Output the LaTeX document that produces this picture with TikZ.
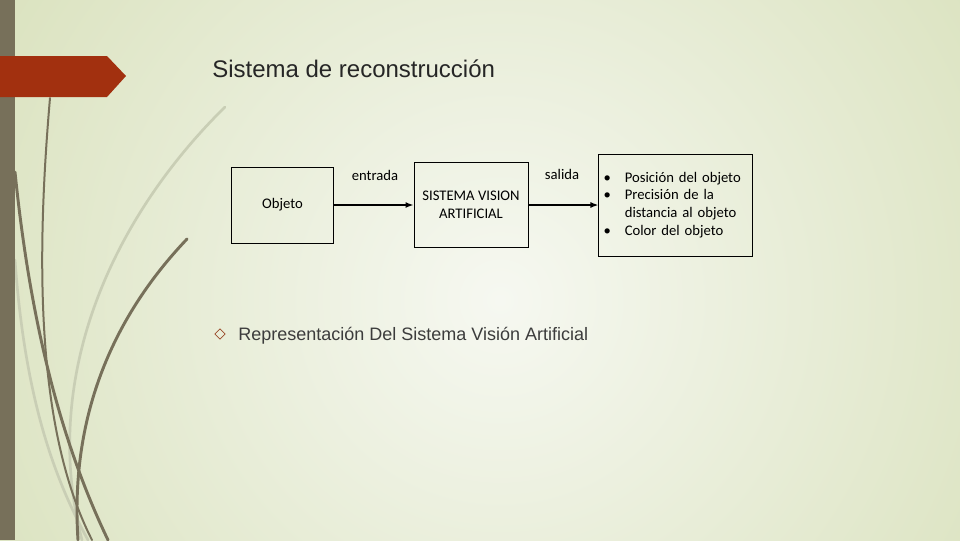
\documentclass[tikz,border=0pt]{standalone}
\usepackage{fontspec}
\setmainfont{Liberation Sans}
\newfontfamily\diagfont{Carlito}
\usetikzlibrary{arrows.meta,shapes.geometric}
\definecolor{slidebg}{HTML}{DAE2BE}
\definecolor{slidelight}{HTML}{F6F8F1}
\definecolor{olive}{HTML}{77705A}
\definecolor{palestem}{HTML}{C9CEB5}
\definecolor{tabred}{HTML}{A2300F}
\definecolor{bulletbrown}{HTML}{9A4A2A}
\definecolor{titlegray}{HTML}{262626}
\tikzset{
    blockbox/.style={draw=black,line width=0.75pt},
    flow/.style={-{Latex[length=6pt,width=4.5pt]},line width=1.1pt},
    diagtext/.style={font=\diagfont\fontsize{11}{13.3}\selectfont},
    stem/.style={olive,line width=2.2pt,line cap=round},
    palestemline/.style={palestem,line width=2pt,line cap=round}
}
\newcommand{\itembullet}{\makebox[16pt][l]{\textbullet}}

\begin{document}
\begin{tikzpicture}[x=0.75pt,y=-0.75pt]
    \useasboundingbox (0,0) rectangle (960,540);
    \begin{scope}
        \clip (0,0) rectangle (960,540);
        \shade[inner color=slidelight,outer color=slidebg] (500,300) circle (600);
    \end{scope}

    \draw[palestemline] (225,107) .. controls (110,220) and (40,380) .. (82,540);
    \draw[palestemline] (15,260) .. controls (25,400) and (55,480) .. (88,540);
    \draw[stem] (15,172) .. controls (30,320) and (60,440) .. (108,540);
    \draw[stem,line width=1.5pt] (50,98) .. controls (36,260) and (36,430) .. (92,540);
    \draw[stem] (187,239) .. controls (110,320) and (70,420) .. (78,540);

    \fill[olive] (0,0) rectangle (15,540);
    \fill[tabred] (0,56) -- (107,56) -- (126,76) -- (107,97) -- (0,97) -- cycle;

    \node[anchor=base west,inner sep=0pt,text=titlegray,
          font=\fontsize{18}{22}\selectfont] (titulo) at (212,77)
      {Sistema de reconstrucción};

    \node[blockbox,diagtext,minimum width=77pt,minimum height=57pt] (objeto) at (282.5,205) {Objeto};
    \node[blockbox,diagtext,align=center,minimum width=85.5pt,minimum height=63.75pt] (vision) at (471,205)
      {SISTEMA VISION\\ARTIFICIAL};
    \node[blockbox,diagtext,align=left,text width=108pt,inner xsep=3.4pt,minimum height=76.5pt] (salidas) at (675.5,205)
      {\itembullet Posición del objeto\\\itembullet Precisión de la\\\hspace*{16pt}distancia al objeto\\\itembullet Color del objeto};
    \node[diagtext] (entrada) at (375,175) {entrada};
    \node[diagtext] (salida) at (562,174) {salida};
    \draw[flow] (objeto) -- (vision);
    \draw[flow] (vision) -- (salidas);

    \node[diamond,draw=bulletbrown,line width=0.6pt,minimum size=8pt,inner sep=0pt] (rombo) at (220,334) {};
    \node[anchor=base west,inner sep=0pt,text=titlegray!90,
          font=\fontsize{13.5}{16}\selectfont] (pie) at (238,340)
      {Representación Del Sistema Visión Artificial};
\end{tikzpicture}
\end{document}
